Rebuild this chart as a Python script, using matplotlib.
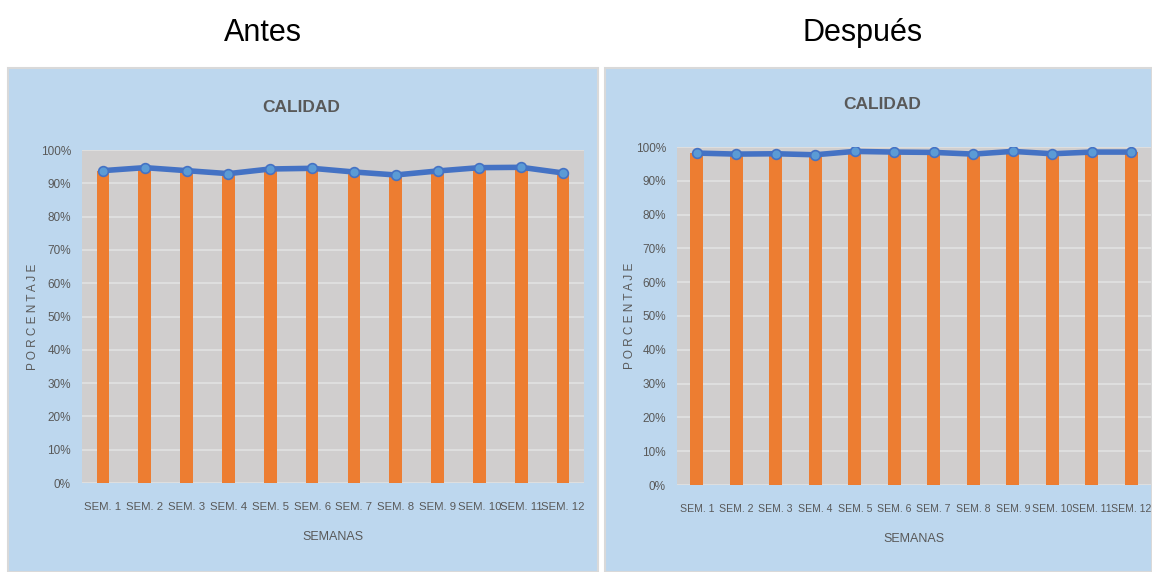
import matplotlib.pyplot as plt
from matplotlib.patches import Rectangle
import numpy as np

semanas = ["SEM. 1", "SEM. 2", "SEM. 3", "SEM. 4", "SEM. 5", "SEM. 6",
           "SEM. 7", "SEM. 8", "SEM. 9", "SEM. 10", "SEM. 11", "SEM. 12"]
antes = [93.8, 94.7, 93.8, 92.9, 94.3, 94.5, 93.4, 92.5, 93.7, 94.7, 94.8, 93.1]
despues = [98.2, 97.9, 98.0, 97.7, 98.7, 98.5, 98.4, 97.9, 98.7, 98.0, 98.5, 98.5]
yticks = list(range(0, 101, 10))

plt.rcParams['font.family'] = ['Liberation Sans', 'DejaVu Sans']

W, H = 1152, 572
fig = plt.figure(figsize=(W / 100, H / 100), dpi=100)
fig.patch.set_facecolor('white')

def fx(px):
    return px / W

def fy(py):
    return 1 - py / H

panel_bg = '#BDD7EE'
plot_bg = '#D0CECE'
txt = '#595959'


def panel(x0, x1, ax_x0, ax_x1, ax_y0, ax_y1, values, heading, head_x, bar_w, title_y, xfs):
    fig.patches.append(Rectangle((fx(x0), 0), fx(x1 - x0), fy(68),
                                 transform=fig.transFigure, facecolor=panel_bg,
                                 edgecolor='#D9D9D9', lw=1.5, zorder=-5))
    fig.text(fx(head_x), fy(33), heading, ha='center', va='center',
             fontsize=22, color='black')
    ax = fig.add_axes([fx(ax_x0), fy(ax_y1), fx(ax_x1 - ax_x0), fy(ax_y0) - fy(ax_y1)])
    ax.set_zorder(2)
    ax.set_facecolor(plot_bg)
    x = np.arange(len(semanas))
    ax.bar(x, values, width=bar_w, color='#ED7D31', zorder=2)
    ax.plot(x, values, color='#4472C4', lw=4, marker='o', markersize=7,
            markerfacecolor='#5B9BD5', markeredgecolor='#4472C4', mew=1.2, zorder=3)
    ax.set_xlim(-0.5, len(semanas) - 0.5)
    ax.set_ylim(0, 100)
    ax.set_yticks(yticks)
    ax.set_yticklabels([f"{v}%" for v in yticks])
    ax.set_xticks(x)
    ax.set_xticklabels(semanas)
    ax.grid(axis='y', color='#E2E2E2', lw=1.2, zorder=1)
    ax.set_axisbelow(True)
    for s in ax.spines.values():
        s.set_visible(False)
    ax.tick_params(length=0, colors=txt, labelsize=8.5)
    ax.tick_params(axis='x', pad=14, labelsize=xfs)
    ax.tick_params(axis='y', pad=8)
    ax.set_xlabel("SEMANAS", color=txt, fontsize=9, labelpad=13)
    fig.text(fx(x0 + 25), fy((ax_y0 + ax_y1) / 2), "P O R C E N T A J E",
             rotation=90, ha='center', va='center', color=txt, fontsize=8.5)
    fig.text(fx((ax_x0 + ax_x1) / 2 - 32), fy(title_y), "CALIDAD", ha='center',
             va='center', fontsize=12.5, fontweight='bold', color='#595959')
    return ax


panel(8, 598, 82, 584, 150, 483, antes, "Antes", 263, 0.3, 107, 8.2)
panel(605, 1152, 677, 1151, 147, 485, despues, "Después", 863, 0.33, 104, 7.6)

fig.savefig("out.png", dpi=100, facecolor=fig.get_facecolor())
